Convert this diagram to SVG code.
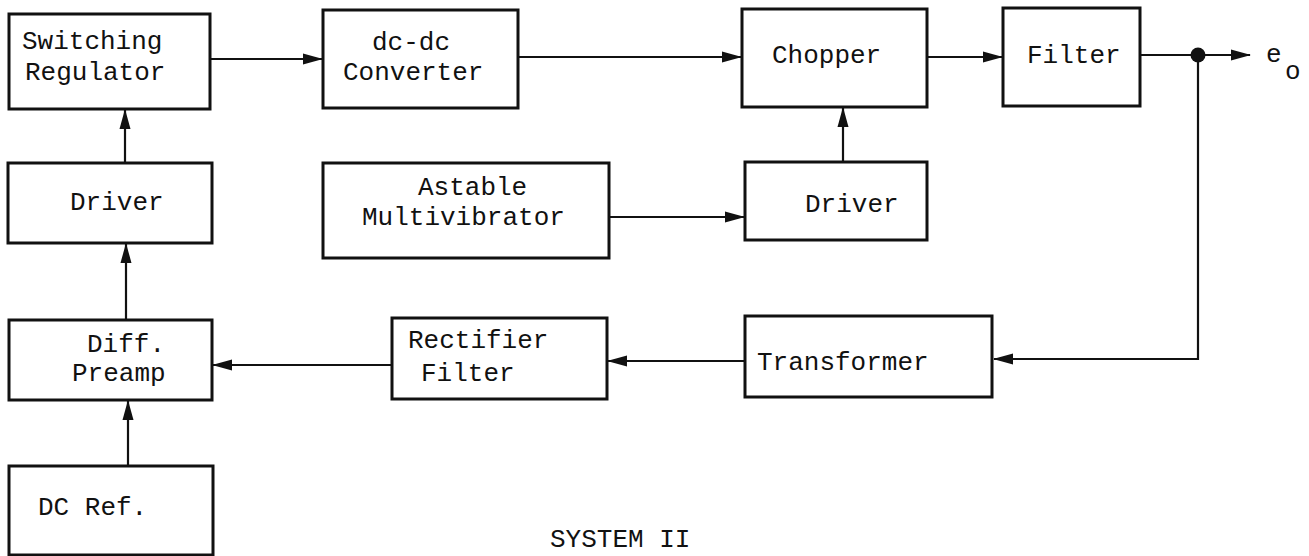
<svg xmlns="http://www.w3.org/2000/svg" width="1309" height="556" viewBox="0 0 1309 556">
<style>
.box{fill:#fff;stroke:#111;stroke-width:3}
.t{font-family:"Liberation Mono","DejaVu Sans Mono",monospace;font-size:26px;fill:#111}
.c{fill:none;stroke:#111;stroke-width:2.2}
</style>
<defs>
<marker id="ah" markerWidth="20" markerHeight="12" refX="19" refY="6" orient="auto" markerUnits="userSpaceOnUse">
<path d="M0,0.5 L20,6 L0,11.5 z" fill="#111"/>
</marker>
</defs>
<rect width="1309" height="556" fill="#fff"/>
<g id="connectors">
<line class="c" x1="210" y1="59" x2="322" y2="59" marker-end="url(#ah)"/>
<line class="c" x1="518" y1="57" x2="741" y2="57" marker-end="url(#ah)"/>
<line class="c" x1="927" y1="57" x2="1002" y2="57" marker-end="url(#ah)"/>
<line class="c" x1="1140" y1="55" x2="1250" y2="55" marker-end="url(#ah)"/>
<circle cx="1198" cy="55" r="7.5" fill="#111"/>
<polyline class="c" points="1198,55 1198,359 994,359" marker-end="url(#ah)"/>
<line class="c" x1="745" y1="361" x2="608" y2="361" marker-end="url(#ah)"/>
<line class="c" x1="392" y1="365" x2="213" y2="365" marker-end="url(#ah)"/>
<line class="c" x1="609" y1="217" x2="744" y2="217" marker-end="url(#ah)"/>
<line class="c" x1="843" y1="162" x2="843" y2="108" marker-end="url(#ah)"/>
<line class="c" x1="125" y1="163" x2="125" y2="110" marker-end="url(#ah)"/>
<line class="c" x1="126" y1="320" x2="126" y2="244" marker-end="url(#ah)"/>
<line class="c" x1="128" y1="466" x2="128" y2="401" marker-end="url(#ah)"/>
</g>
<g id="switching-regulator">
<rect class="box" x="9" y="14" width="201" height="95"/>
<text class="t" x="22" y="49">Switching</text>
<text class="t" x="25" y="80">Regulator</text>
</g>
<g id="dc-dc-converter">
<rect class="box" x="323" y="10" width="195" height="98"/>
<text class="t" x="372" y="50">dc-dc</text>
<text class="t" x="343" y="80">Converter</text>
</g>
<g id="chopper">
<rect class="box" x="742" y="9" width="185" height="98"/>
<text class="t" x="772" y="63">Chopper</text>
</g>
<g id="filter">
<rect class="box" x="1003" y="8" width="137" height="98"/>
<text class="t" x="1027" y="63">Filter</text>
</g>
<g id="output-label">
<text class="t" x="1266" y="62">e</text>
<text class="t" x="1285" y="79">o</text>
</g>
<g id="driver-left">
<rect class="box" x="8" y="163" width="204" height="80"/>
<text class="t" x="70" y="210">Driver</text>
</g>
<g id="astable-multivibrator">
<rect class="box" x="323" y="163" width="286" height="95"/>
<text class="t" x="418" y="195">Astable</text>
<text class="t" x="362" y="225">Multivibrator</text>
</g>
<g id="driver-right">
<rect class="box" x="745" y="162" width="182" height="78"/>
<text class="t" x="805" y="212">Driver</text>
</g>
<g id="diff-preamp">
<rect class="box" x="9" y="320" width="203" height="80"/>
<text class="t" x="87" y="352">Diff.</text>
<text class="t" x="72" y="381">Preamp</text>
</g>
<g id="rectifier-filter">
<rect class="box" x="392" y="318" width="215" height="81"/>
<text class="t" x="408" y="348">Rectifier</text>
<text class="t" x="421" y="381">Filter</text>
</g>
<g id="transformer">
<rect class="box" x="745" y="316" width="247" height="81"/>
<text class="t" x="757" y="370">Transformer</text>
</g>
<g id="dc-ref">
<rect class="box" x="9" y="466" width="204" height="89"/>
<text class="t" x="38" y="515">DC Ref.</text>
</g>
<text class="t" x="550" y="547">SYSTEM II</text>
</svg>
